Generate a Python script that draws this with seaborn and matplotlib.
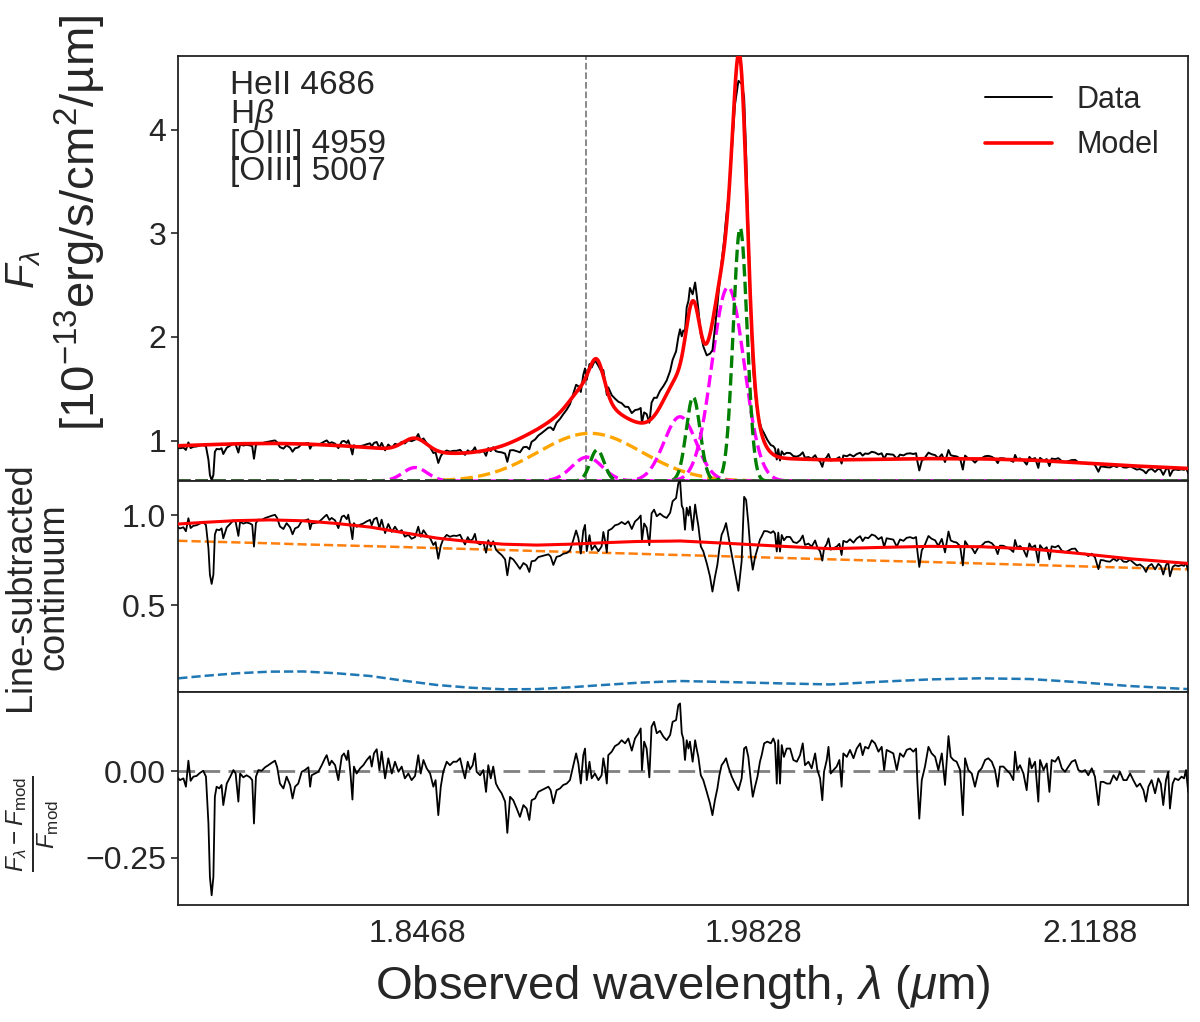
import numpy as np
import matplotlib
matplotlib.use("Agg")
import matplotlib.pyplot as plt
from matplotlib.lines import Line2D
from matplotlib.ticker import FormatStrFormatter, FuncFormatter
import seaborn as sns

sns.set_style("ticks")
plt.rcParams["font.family"] = ["Liberation Sans", "DejaVu Sans"]
plt.rcParams["mathtext.fontset"] = "custom"
plt.rcParams["mathtext.rm"] = "Liberation Sans"
plt.rcParams["mathtext.it"] = "Liberation Sans:italic"
plt.rcParams["mathtext.bf"] = "Liberation Sans:bold"

# ---- residual (F - Fmod)/Fmod ----
wave = [
    1.7499, 1.7510, 1.7524, 1.7534, 1.7544, 1.7553, 1.7564, 1.7577, 1.7591, 1.7604,
    1.7615, 1.7625, 1.7631, 1.7638, 1.7645, 1.7651, 1.7658, 1.7669, 1.7678, 1.7685,
    1.7699, 1.7712, 1.7726, 1.7735, 1.7746, 1.7753, 1.7766, 1.7779, 1.7793, 1.7802,
    1.7809, 1.7817, 1.7827, 1.7840, 1.7854, 1.7867, 1.7881, 1.7894, 1.7903, 1.7914,
    1.7928, 1.7941, 1.7955, 1.7965, 1.7975, 1.7988, 1.8002, 1.8015, 1.8029, 1.8036,
    1.8042, 1.8056, 1.8069, 1.8083, 1.8096, 1.8103, 1.8114, 1.8123, 1.8137, 1.8150,
    1.8164, 1.8173, 1.8184, 1.8190, 1.8200, 1.8207, 1.8213, 1.8224, 1.8238, 1.8251,
    1.8265, 1.8278, 1.8285, 1.8294, 1.8305, 1.8316, 1.8325, 1.8339, 1.8352, 1.8366,
    1.8379, 1.8393, 1.8406, 1.8419, 1.8433, 1.8446, 1.8460, 1.8473, 1.8483, 1.8494,
    1.8507, 1.8521, 1.8534, 1.8543, 1.8554, 1.8564, 1.8574, 1.8588, 1.8601, 1.8615,
    1.8628, 1.8642, 1.8653, 1.8662, 1.8673, 1.8682, 1.8693, 1.8702, 1.8709, 1.8723,
    1.8736, 1.8747, 1.8756, 1.8766, 1.8776, 1.8787, 1.8797, 1.8810, 1.8824, 1.8833,
    1.8844, 1.8857, 1.8871, 1.8884, 1.8898, 1.8911, 1.8922, 1.8931, 1.8945, 1.8958,
    1.8972, 1.8985, 1.8999, 1.9008, 1.9019, 1.9032, 1.9046, 1.9059, 1.9073, 1.9086,
    1.9100, 1.9111, 1.9120, 1.9130, 1.9140, 1.9147, 1.9154, 1.9165, 1.9174, 1.9187,
    1.9201, 1.9214, 1.9221, 1.9228, 1.9235, 1.9241, 1.9255, 1.9268, 1.9282, 1.9295,
    1.9309, 1.9322, 1.9336, 1.9349, 1.9363, 1.9372, 1.9377, 1.9386, 1.9396, 1.9407,
    1.9416, 1.9426, 1.9437, 1.9450, 1.9464, 1.9477, 1.9491, 1.9501, 1.9515, 1.9524,
    1.9531,
    1.9538, 1.9544, 1.9551, 1.9558, 1.9565, 1.9571, 1.9582, 1.9592, 1.9598, 1.9605,
    1.9615, 1.9625, 1.9639, 1.9652, 1.9662, 1.9672, 1.9682, 1.9690, 1.9699, 1.9709,
    1.9717, 1.9726, 1.9740, 1.9753, 1.9767, 1.9780, 1.9790, 1.9798, 1.9807, 1.9817,
    1.9825, 1.9834, 1.9844, 1.9854, 1.9861, 1.9871, 1.9884, 1.9898, 1.9908, 1.9915,
    1.9922, 1.9928, 1.9935, 1.9942, 1.9951, 1.9962, 1.9976, 1.9989, 2.0003, 2.0016,
    2.0027, 2.0036, 2.0050, 2.0063, 2.0077, 2.0086, 2.0097, 2.0106, 2.0113, 2.0124,
    2.0131, 2.0140, 2.0151, 2.0164, 2.0175, 2.0184, 2.0191, 2.0205, 2.0218, 2.0232,
    2.0245, 2.0259, 2.0269, 2.0279, 2.0292, 2.0306, 2.0319, 2.0333, 2.0346, 2.0356,
    2.0366, 2.0380, 2.0393, 2.0407, 2.0420, 2.0434, 2.0447, 2.0461, 2.0474, 2.0485,
    2.0490, 2.0498, 2.0508, 2.0521, 2.0535, 2.0548, 2.0562, 2.0575, 2.0589, 2.0602,
    2.0616, 2.0625, 2.0636, 2.0649, 2.0663, 2.0674, 2.0683, 2.0696, 2.0710, 2.0723,
    2.0737, 2.0750, 2.0764, 2.0777, 2.0791, 2.0804, 2.0815, 2.0824, 2.0838, 2.0851,
    2.0865, 2.0878, 2.0885, 2.0894, 2.0905, 2.0919, 2.0932, 2.0943, 2.0952, 2.0966,
    2.0979, 2.0986, 2.1000, 2.1013, 2.1024, 2.1033, 2.1047, 2.1060, 2.1074, 2.1087,
    2.1101, 2.1114, 2.1128, 2.1141, 2.1155, 2.1168, 2.1181, 2.1195, 2.1208, 2.1222,
    2.1231, 2.1242, 2.1256, 2.1269, 2.1283, 2.1296, 2.1309, 2.1323, 2.1336, 2.1350,
    2.1363, 2.1377, 2.1390, 2.1404, 2.1414, 2.1424, 2.1437, 2.1451, 2.1464, 2.1474,
    2.1484, 2.1495, 2.1504, 2.1511, 2.1522, 2.1531, 2.1545, 2.1558, 2.1568, 2.1576,
    2.1585,
]
resid = [
    -0.018, -0.026, -0.021, -0.045, 0.030, -0.028, -0.016, -0.014, -0.005, 0.001,
    -0.016, -0.151, -0.305, -0.358, -0.305, -0.074, -0.045, -0.050, -0.040, -0.098,
    -0.036, -0.018, 0.003, -0.007, -0.088, -0.007, -0.018, -0.012, -0.018, -0.026,
    -0.151, -0.016, 0.003, 0.001, 0.011, 0.017, 0.024, 0.030, 0.011, -0.036,
    -0.050, -0.016, -0.040, -0.079, -0.045, -0.036, -0.002, 0.003, 0.011, -0.045,
    -0.012, -0.007, -0.002, 0.017, 0.037, 0.046, 0.017, 0.030, 0.017, -0.026,
    0.043, 0.051, 0.032, 0.059, -0.016, -0.082, 0.013, -0.007, 0.008, 0.017,
    0.032, 0.043, 0.013, 0.051, 0.063, 0.003, 0.056, -0.021, 0.037, -0.007,
    0.027, -0.002, 0.013, -0.021, -0.007, -0.026, -0.014, 0.046, -0.007, 0.032,
    0.008, -0.007, -0.045, -0.026, -0.127, -0.045, -0.002, 0.027, 0.017, 0.027,
    0.027, 0.037, 0.003, -0.021, 0.027, 0.005, 0.017, 0.051, -0.002, -0.012,
    0.003, -0.060, 0.017, -0.021, 0.013, -0.036, -0.050, -0.064, -0.088, -0.178,
    -0.074, -0.084, -0.108, -0.132, -0.098, -0.108, -0.141, -0.084, -0.079, -0.060,
    -0.055, -0.050, -0.045, -0.055, -0.093, -0.055, -0.050, -0.040, -0.036, -0.026,
    0.017, 0.051, 0.022, -0.036, 0.046, 0.065, -0.026, 0.027, -0.021, -0.007,
    -0.026, -0.012, 0.037, 0.008, -0.036, 0.046, 0.056, 0.072, 0.078, 0.089,
    0.080, 0.094, 0.059, 0.094, 0.109, 0.123, 0.003, 0.085, 0.065, -0.018,
    0.128, 0.142, 0.109, 0.116, 0.099, 0.089, 0.104, 0.142, 0.147, 0.190,
    0.195,
    0.109, 0.094, 0.032, 0.089, 0.065, 0.085, 0.027, 0.089, 0.065, 0.041,
    -0.012, -0.026, -0.060, -0.093, -0.127, -0.084, -0.050, -0.012, 0.017, 0.027,
    0.037, 0.013, -0.016, -0.036, -0.055, -0.021, 0.065, 0.070, 0.041, -0.026,
    -0.074, -0.045, -0.016, 0.027, 0.046, 0.080, 0.085, 0.080, 0.094, 0.080,
    -0.036, 0.089, -0.036, 0.075, 0.041, 0.065, 0.065, 0.032, 0.027, 0.046,
    0.080, 0.017, 0.027, 0.008, 0.051, 0.003, -0.021, -0.084, -0.002, 0.032,
    0.070, -0.007, 0.003, 0.013, 0.032, -0.045, 0.051, 0.041, 0.061, 0.037,
    0.065, 0.080, 0.046, 0.070, 0.065, 0.089, 0.080, 0.056, 0.070, 0.003,
    0.061, 0.056, 0.051, 0.003, 0.051, 0.041, 0.061, 0.065, 0.056, 0.065,
    -0.026, -0.137, -0.026, 0.013, 0.070, 0.051, 0.041, 0.003, 0.051, -0.040,
    0.101, 0.041, 0.032, 0.027, 0.003, -0.127, 0.037, 0.003, -0.007, -0.045,
    -0.002, 0.008, 0.032, 0.037, 0.027, 0.003, -0.045, 0.013, 0.013, 0.003,
    -0.007, -0.026, 0.056, 0.003, 0.017, -0.007, -0.055, 0.037, 0.008, 0.027,
    -0.088, 0.032, 0.003, 0.022, -0.060, 0.032, 0.027, 0.041, 0.008, -0.002,
    0.013, 0.027, 0.032, 0.003, -0.002, 0.003, -0.012, 0.008, -0.016, -0.098,
    -0.031, -0.031, -0.036, -0.036, -0.012, -0.026, -0.002, -0.026, -0.026, -0.007,
    -0.026, -0.045, -0.036, -0.055, -0.088, -0.045, -0.026, -0.064, -0.021, -0.036,
    -0.098, -0.026, -0.002, -0.108, -0.036, -0.021, -0.026, -0.016, -0.021, 0.003,
    -0.060,
]

# ---- continuum pieces (middle panel dashed curves) ----
cont_wave = [1.7503, 1.7604, 1.7739, 1.7874, 1.8008, 1.8143, 1.8278, 1.8413, 1.8548,
             1.8682, 1.8817, 1.8952, 1.9086, 1.9221, 1.9356, 1.9491, 1.9531, 1.9733,
             1.9935, 2.0137, 2.0339, 2.0541, 2.0744, 2.0946, 2.1148, 2.1350, 2.1586]
powerlaw = [0.857, 0.853, 0.848, 0.843, 0.837, 0.832, 0.827, 0.822, 0.816,
            0.811, 0.806, 0.800, 0.795, 0.790, 0.785, 0.779, 0.778, 0.770,
            0.762, 0.754, 0.746, 0.739, 0.731, 0.723, 0.715, 0.707, 0.698]
feii = [0.093, 0.106, 0.121, 0.130, 0.131, 0.121, 0.106, 0.080, 0.056,
        0.041, 0.032, 0.033, 0.043, 0.056, 0.068, 0.076, 0.078, 0.072,
        0.065, 0.059, 0.074, 0.087, 0.093, 0.089, 0.071, 0.050, 0.033]

# ---- emission-line components: centre (um), peak height, sigma (um) ----
line_names = ["HeII", "Hb broad", "Hb outflow", "Hb narrow",
              "[OIII]4959 outflow", "[OIII]4959 narrow",
              "[OIII]5007 outflow", "[OIII]5007 narrow"]
line_center = [1.8460, 1.9167, 1.9155, 1.9196, 1.9531, 1.9584, 1.9725, 1.9774]
line_height = [0.13, 0.46, 0.23, 0.30, 0.62, 0.81, 1.87, 2.44]
line_sigma = [0.0049, 0.0210, 0.0061, 0.0028, 0.0065, 0.0028, 0.0065, 0.0028]
line_kind = ["outflow", "broad", "outflow", "narrow", "outflow", "narrow", "outflow", "narrow"]

tick_pos = [1.8468, 1.9828, 2.1188]
marker_wave = 1.9151

kind_color = {"outflow": "magenta", "broad": "orange", "narrow": "green"}

XLO, XHI = 1.7502, 2.1584
wave = np.array(wave)
resid = np.array(resid)
assert len(wave) == len(resid)


def profile(x, c, h, s):
    return h * np.exp(-0.5 * ((x - c) / s) ** 2)


def continuum(x):
    return np.interp(x, cont_wave, powerlaw) + np.interp(x, cont_wave, feii)


def lines_total(x):
    return sum(profile(x, c, h, s) for c, h, s in zip(line_center, line_height, line_sigma))


fine = np.linspace(XLO, XHI, 2500)
model_fine = continuum(fine) + lines_total(fine)
model_w = continuum(wave) + lines_total(wave)
flux = model_w * (1 + resid)
line_sub = flux - lines_total(wave)
cont_sum = np.array(powerlaw) + np.array(feii)

fig = plt.figure(figsize=(12, 10.22), dpi=100)
W, H = 1200, 1022
L, R = 178, 1188


def box(top, bottom):
    return [L / W, 1 - bottom / H, (R - L) / W, (bottom - top) / H]


ax1 = fig.add_axes(box(56, 481))
ax2 = fig.add_axes(box(481, 692))
ax3 = fig.add_axes(box(692, 905))


def draw(ax, x, y, **kw):
    sns.lineplot(x=x, y=y, ax=ax, estimator=None, sort=False, legend=False, **kw)


def minus_fmt(fmt):
    return FuncFormatter(lambda v, p: (fmt % v).replace("-", "\u2212"))


# top panel
base = 0.61
for c, h, s, k in zip(line_center, line_height, line_sigma, line_kind):
    draw(ax1, fine, base + profile(fine, c, h, s), color=kind_color[k], lw=2.4,
         linestyle="--", zorder=2)
draw(ax1, wave, flux, color="black", lw=1.4, zorder=3)
draw(ax1, fine, model_fine, color="red", lw=2.6, zorder=4)
ax1.axvline(marker_wave, color="gray", ls="--", lw=1.3, zorder=1)
ax1.set_ylim(base, 4.71)
ax1.set_yticks([1, 2, 3, 4])
ax1.text(0.051, 0.968, "HeII 4686\nH$\\beta$\n[OIII] 4959\n[OIII] 5007",
         transform=ax1.transAxes, fontsize=24, va="top", ha="left", linespacing=0.86)
handles = [Line2D([], [], color="black", lw=1.4), Line2D([], [], color="red", lw=2.6)]
ax1.legend(handles, ["Data", "Model"], loc="upper right", frameon=False, fontsize=22,
           handlelength=2.2, borderaxespad=0.55, labelspacing=0.5)

# middle panel
draw(ax2, wave, line_sub, color="black", lw=1.3, zorder=3)
draw(ax2, cont_wave, cont_sum, color="red", lw=2.2, zorder=4)
draw(ax2, cont_wave, powerlaw, color="#ff7f0e", lw=1.8, linestyle="--", zorder=2)
draw(ax2, cont_wave, feii, color="#1f77b4", lw=1.8, linestyle="--", zorder=2)
ax2.set_ylim(0.017, 1.189)
ax2.set_yticks([0.5, 1.0])
ax2.yaxis.set_major_formatter(FormatStrFormatter("%.1f"))

# bottom panel
ax3.axhline(0, color="gray", ls=(0, (6, 3)), lw=2.0, zorder=1)
draw(ax3, wave, resid, color="black", lw=1.3, zorder=3)
ax3.set_ylim(-0.386, 0.228)
ax3.set_yticks([-0.25, 0.0])
ax3.yaxis.set_major_formatter(minus_fmt("%.2f"))

for ax in (ax1, ax2, ax3):
    ax.set_xlim(XLO, XHI)
    ax.set_xticks(tick_pos)
    ax.set_xlabel("")
    ax.set_ylabel("")
    ax.tick_params(axis="y", labelsize=23, length=5, width=1.2, direction="out")
    ax.tick_params(axis="x", labelsize=23, length=0, pad=10)
    for sp in ax.spines.values():
        sp.set_visible(True)
        sp.set_linewidth(1.3)
        sp.set_color("#222222")
ax1.set_xticklabels([])
ax2.set_xticklabels([])
ax3.xaxis.set_major_formatter(FormatStrFormatter("%.4f"))

ax3.set_xlabel("Observed wavelength, $\\lambda$ ($\\mu$m)", fontsize=34, labelpad=10)

fig.text(24 / W, 1 - 270 / H, "$F_\\lambda$", rotation=90, fontsize=29,
         ha="center", va="center")
fig.text(80 / W, 1 - 223 / H, "[10$^{-13}$erg/s/cm$^2$/µm]", rotation=90, fontsize=34,
         ha="center", va="center")
fig.text(37 / W, 1 - 587 / H, "Line-subtracted\ncontinuum", rotation=90, fontsize=26,
         ha="center", va="center", multialignment="center", linespacing=0.95)
fig.text(33 / W, 1 - 824 / H, "$\\frac{F_\\lambda - F_{\\rm mod}}{F_{\\rm mod}}$",
         rotation=90, fontsize=25, ha="center", va="center")

fig.savefig("out.png", dpi=100)
